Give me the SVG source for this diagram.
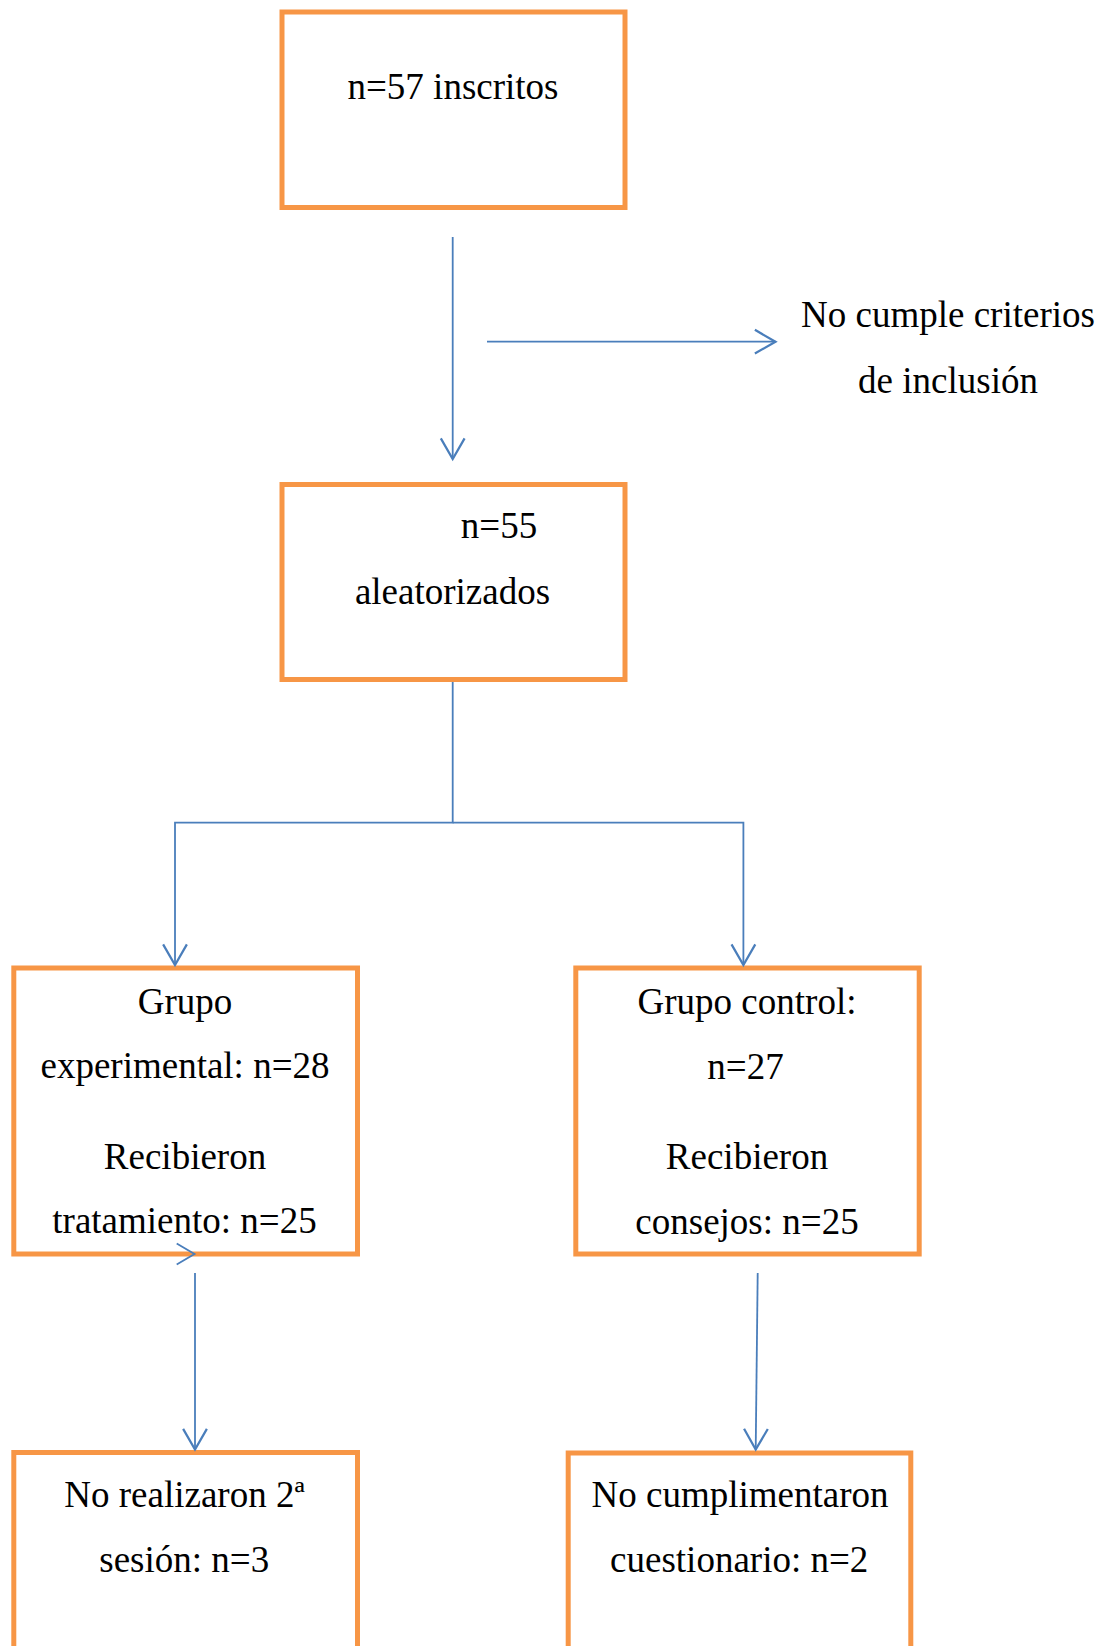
<svg xmlns="http://www.w3.org/2000/svg" width="1111" height="1646" viewBox="0 0 1111 1646">
<style>
.box{fill:#fff;stroke:#F79646;stroke-width:5}
.t{font-family:"Liberation Serif","Times New Roman",serif;font-size:37px;fill:#000;text-anchor:middle}
.c{fill:none;stroke:#4A7EBB;stroke-width:1.8}
</style>
<defs>
<marker id="ah" markerUnits="userSpaceOnUse" markerWidth="30" markerHeight="30" viewBox="-20 -12 22 24" refX="0" refY="0" orient="auto">
<path d="M-16.5,-9.5 L0,0 L-16.5,9.5" fill="none" stroke="#4A7EBB" stroke-width="1.8"/>
</marker>
</defs>
<rect width="1111" height="1646" fill="#fff"/>
<g id="n1">
<rect class="box" x="282" y="12" width="343" height="195.5"/>
<text class="t" x="453" y="99">n=57 inscritos</text>
</g>
<g id="excl">
<text class="t" x="948" y="326.7">No cumple criterios</text>
<text class="t" x="948" y="392.7">de inclusión</text>
</g>
<g id="n2">
<rect class="box" x="282" y="484.5" width="343" height="195"/>
<text class="t" x="499" y="538.3">n=55</text>
<text class="t" x="452.5" y="604">aleatorizados</text>
</g>
<g id="exp">
<rect class="box" x="13.8" y="968" width="343.7" height="286"/>
<text class="t" x="185" y="1014.3">Grupo</text>
<text class="t" x="185" y="1078.3">experimental: n=28</text>
<text class="t" x="185" y="1169">Recibieron</text>
<text class="t" x="184.5" y="1233.3">tratamiento: n=25</text>
</g>
<g id="ctrl">
<rect class="box" x="575.8" y="968" width="343.4" height="286"/>
<text class="t" x="747" y="1014.3">Grupo control:</text>
<text class="t" x="745.5" y="1079">n=27</text>
<text class="t" x="747" y="1169">Recibieron</text>
<text class="t" x="747" y="1234">consejos: n=25</text>
</g>
<g id="drop1">
<rect class="box" x="13.8" y="1452.5" width="343.7" height="260"/>
<text class="t" x="184.5" y="1506.7">No realizaron 2ª</text>
<text class="t" x="184.2" y="1571.7">sesión: n=3</text>
</g>
<g id="drop2">
<rect class="box" x="568.2" y="1453" width="342.6" height="260"/>
<text class="t" x="740" y="1506.7">No cumplimentaron</text>
<text class="t" x="739.2" y="1571.7">cuestionario: n=2</text>
</g>
<g id="connectors">
<path class="c" d="M452.7,237 V459" marker-end="url(#ah)"/>
<path class="c" d="M487,341.7 H775.5" marker-end="url(#ah)"/>
<path class="c" d="M452.7,682 V822.7 H175 V965" marker-end="url(#ah)"/>
<path class="c" d="M452.7,822.7 H743.4 V965" marker-end="url(#ah)"/>
<path class="c" d="M195,1273 V1449.5" marker-end="url(#ah)"/>
<path class="c" d="M757.7,1273 L755.7,1449.5" marker-end="url(#ah)"/>
<path class="c" d="M176.7,1243.5 L194.5,1254 L176.7,1264.5"/>
</g>
</svg>
